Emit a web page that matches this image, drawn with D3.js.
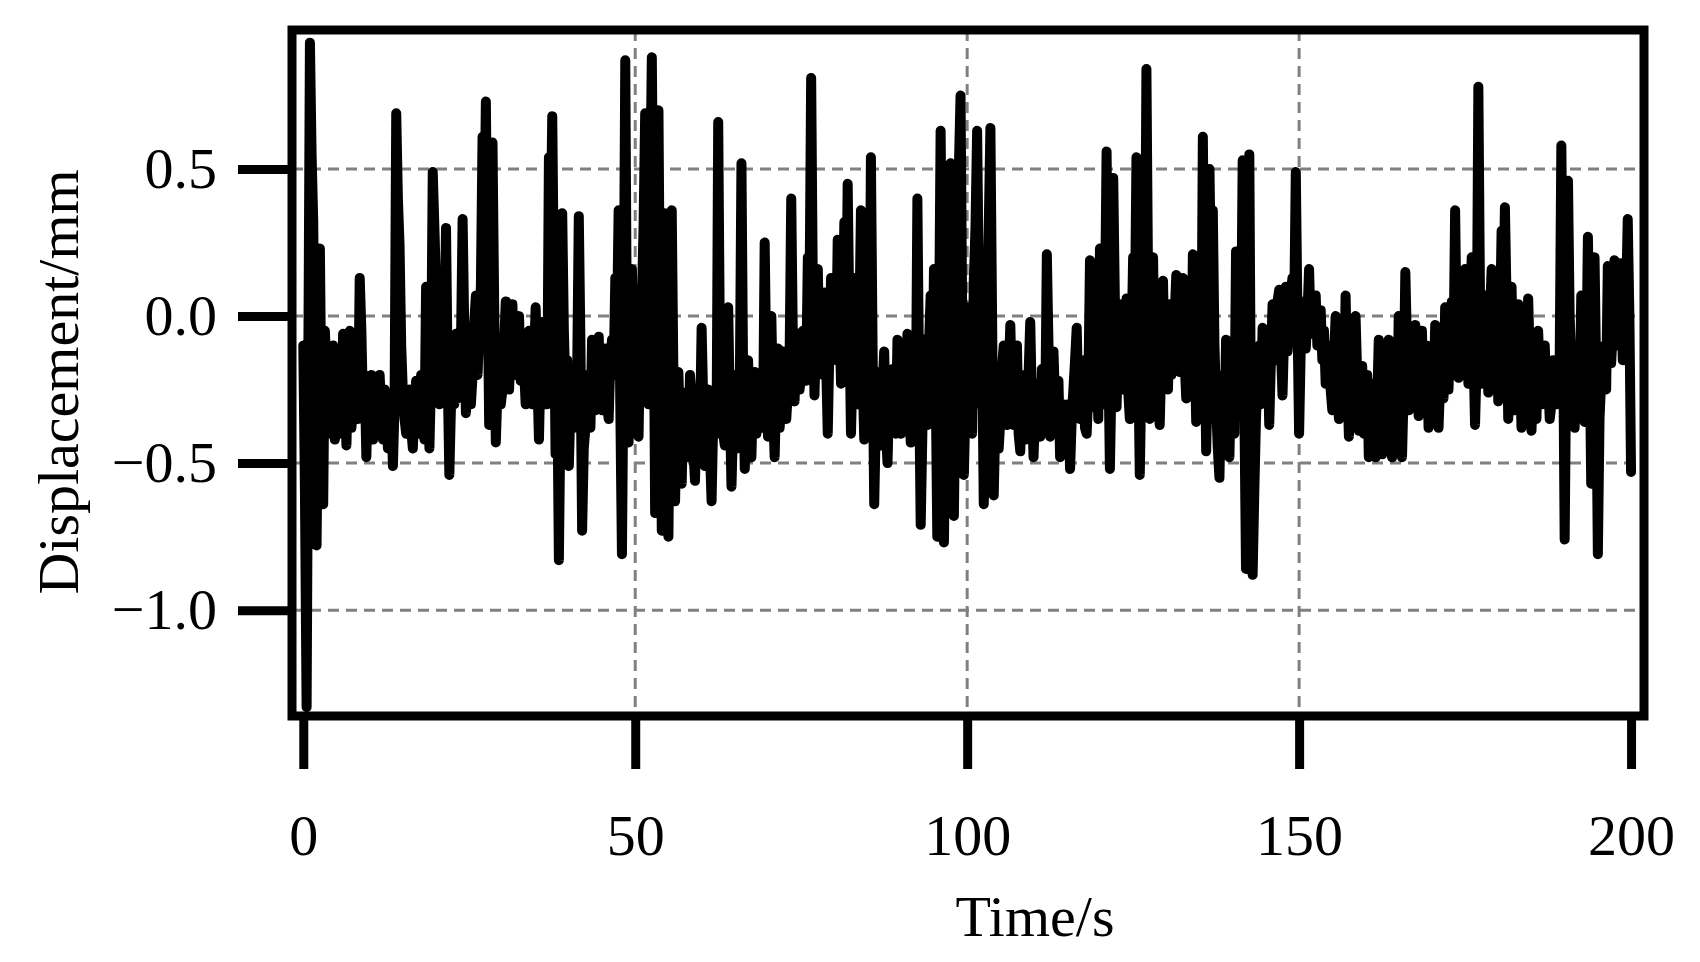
<!DOCTYPE html>
<html lang="en">
<head>
  <meta charset="UTF-8">
  <title>Displacement time history</title>
  <script src="https://d3js.org/d3.v7.min.js"></script>
  <style>
    body { margin: 0; background: #fff; }
    text { font-family: "Liberation Serif", "Times New Roman", serif; fill: #000; }
    .grid line { stroke: #808080; stroke-width: 3; stroke-dasharray: 11 7; }
    .trace { fill: none; stroke: #000; stroke-width: 10; stroke-linejoin: round; stroke-linecap: round; }
    .axis path { display: none; }
    .axis line { stroke: #000; stroke-width: 9; }
    .axis text { font-size: 58px; }
  </style>
</head>
<body>
<svg id="chart" width="1700" height="962"></svg>
<script>
// sampled every 0.25 s, starting at t = 0
const timeStep = 0.25;

// displacement in mm, one row per 10 s
const disp = [
  -0.10, -0.60, -1.33, -0.20, 0.93, 0.55, 0.32, -0.30, -0.78, -0.20, 0.23, -0.35, -0.64, -0.05, -0.19, -0.40, -0.35, -0.15, -0.10, -0.42,
  -0.38, -0.12, -0.22, -0.40, -0.06, -0.25, -0.44, -0.20, -0.05, -0.38, -0.30, -0.15, -0.12, -0.35, 0.13, -0.05, -0.32, -0.20, -0.48, -0.25,

  -0.30, -0.20, -0.42, -0.30, -0.22, -0.38, -0.20, -0.33, -0.42, -0.25, -0.30, -0.45, -0.38, -0.28, -0.51, -0.30, 0.69, 0.40, 0.24, -0.10,
  -0.26, -0.35, -0.40, -0.28, -0.25, -0.38, -0.45, -0.30, -0.22, -0.35, -0.40, -0.20, -0.30, -0.42, 0.10, -0.15, -0.45, -0.20, 0.49, 0.30,

  0.10, -0.05, -0.30, -0.15, 0.11, -0.10, 0.30, -0.20, -0.54, -0.30, -0.15, -0.30, -0.06, -0.28, -0.25, -0.10, 0.33, -0.05, -0.33, -0.20,
  -0.12, -0.30, -0.20, -0.02, 0.07, -0.20, -0.05, 0.10, 0.61, 0.20, 0.73, 0.15, -0.37, -0.10, 0.59, 0.05, -0.43, -0.25, -0.10, -0.30,

  -0.25, -0.10, 0.05, -0.12, -0.25, -0.08, 0.04, -0.20, -0.17, -0.05, 0.00, -0.22, -0.08, -0.18, -0.30, -0.12, -0.05, -0.25, -0.30, -0.15,
  0.03, -0.20, -0.42, -0.15, -0.02, -0.30, -0.20, -0.30, 0.54, 0.25, 0.68, 0.10, -0.47, -0.20, -0.83, -0.30, 0.35, -0.05, -0.26, -0.15,

  -0.51, -0.30, -0.19, -0.38, -0.35, -0.20, 0.34, -0.10, -0.73, -0.45, -0.38, -0.20, -0.25, -0.38, -0.08, -0.22, -0.32, -0.15, -0.07, -0.25,
  -0.32, -0.18, -0.11, -0.30, -0.35, -0.15, -0.08, -0.20, 0.13, -0.05, 0.36, -0.30, -0.81, -0.10, 0.87, -0.10, -0.43, -0.10, 0.16, -0.15,

  0.06, -0.20, -0.41, -0.05, 0.05, 0.30, 0.69, 0.10, -0.30, 0.40, 0.88, 0.20, -0.67, 0.10, 0.70, -0.10, -0.73, -0.20, 0.35, -0.40,
  -0.75, -0.10, 0.36, -0.20, -0.63, -0.35, -0.19, -0.40, -0.57, -0.30, -0.26, -0.48, -0.44, -0.20, -0.28, -0.45, -0.56, -0.35, -0.25, -0.40,

  -0.04, -0.30, -0.51, -0.28, -0.25, -0.45, -0.63, -0.35, -0.30, -0.40, 0.66, -0.10, -0.26, -0.40, -0.44, -0.22, 0.03, -0.30, -0.58, -0.35,
  -0.20, -0.45, -0.35, -0.25, 0.52, -0.20, -0.52, -0.30, -0.15, -0.38, -0.48, -0.25, -0.19, -0.40, -0.35, -0.20, -0.22, -0.38, 0.25, -0.20,

  -0.41, -0.25, 0.00, -0.30, -0.48, -0.25, -0.11, -0.38, -0.30, -0.12, -0.15, -0.35, -0.25, -0.15, 0.40, -0.10, -0.29, -0.12, -0.06, -0.25,
  -0.20, -0.05, -0.10, -0.22, 0.20, 0.05, 0.81, 0.10, -0.27, -0.05, 0.16, -0.15, -0.05, -0.20, 0.08, -0.15, -0.40, -0.10, 0.13, -0.10,

  0.05, -0.15, 0.26, 0.00, -0.23, -0.05, 0.32, -0.10, 0.45, 0.00, -0.40, -0.15, 0.13, -0.25, -0.30, -0.05, 0.36, -0.20, -0.42, -0.25,
  -0.20, -0.35, 0.54, -0.10, -0.64, -0.35, -0.19, -0.40, -0.44, -0.25, -0.12, -0.38, -0.50, -0.28, -0.35, -0.18, -0.20, -0.40, -0.08, -0.30,

  -0.40, -0.28, -0.20, -0.38, -0.06, -0.30, -0.43, -0.22, -0.25, -0.40, 0.40, -0.20, -0.71, -0.40, -0.08, -0.30, -0.37, -0.10, 0.07, -0.30,
  0.16, -0.20, -0.75, -0.10, 0.63, 0.00, -0.77, -0.30, 0.10, -0.20, 0.52, 0.00, -0.68, -0.20, 0.30, 0.50, 0.75, 0.00, -0.54, -0.30,

  0.03, -0.35, -0.20, -0.40, 0.12, 0.30, 0.63, 0.10, -0.30, -0.10, -0.64, -0.30, 0.00, 0.30, 0.64, 0.00, -0.61, -0.35, -0.20, -0.45,
  -0.35, -0.18, -0.10, -0.30, -0.37, -0.20, -0.03, -0.28, -0.37, -0.15, -0.10, -0.40, -0.46, -0.20, -0.25, -0.42, -0.35, -0.20, -0.02, -0.30,

  -0.48, -0.30, -0.23, -0.38, -0.41, -0.18, -0.20, -0.35, 0.21, -0.10, -0.41, -0.25, -0.12, -0.30, -0.35, -0.22, -0.48, -0.32, -0.30, -0.45,
  -0.40, -0.30, -0.52, -0.35, -0.25, -0.15, -0.04, -0.30, -0.35, -0.15, -0.20, -0.38, -0.40, -0.25, 0.19, -0.10, -0.31, -0.18, -0.10, -0.35,

  0.23, -0.10, -0.30, 0.00, 0.56, -0.10, -0.52, -0.20, 0.47, 0.05, -0.31, -0.10, 0.04, -0.25, -0.20, -0.05, 0.06, -0.25, -0.35, -0.10,
  0.20, -0.05, 0.54, -0.10, -0.54, -0.20, 0.30, -0.15, 0.84, 0.10, -0.35, -0.10, 0.20, -0.20, -0.10, -0.30, -0.37, -0.15, 0.12, -0.20,

  -0.10, -0.25, 0.04, -0.20, -0.15, 0.00, 0.14, -0.10, -0.19, 0.00, 0.13, -0.15, -0.28, -0.10, -0.05, -0.20, 0.21, -0.10, -0.36, -0.20,
  -0.10, -0.30, 0.61, 0.00, -0.46, -0.20, 0.50, 0.10, 0.36, -0.10, -0.30, -0.45, -0.55, -0.25, -0.20, -0.40, -0.08, -0.30, -0.48, -0.20,

  -0.25, -0.40, 0.22, -0.10, -0.30, -0.10, 0.53, -0.30, -0.86, -0.20, 0.55, -0.40, -0.88, -0.60, -0.35, -0.20, -0.10, -0.30, -0.04, -0.20,
  -0.25, -0.10, -0.37, -0.15, 0.04, -0.10, -0.15, 0.05, 0.09, -0.10, -0.27, -0.05, 0.10, -0.12, -0.05, 0.08, 0.13, 0.00, 0.49, 0.00,

  -0.40, -0.10, -0.08, 0.05, -0.11, 0.00, 0.16, -0.05, -0.06, 0.04, 0.07, -0.10, -0.06, 0.02, -0.15, -0.05, -0.23, -0.12, -0.10, -0.25,
  -0.32, -0.15, 0.00, -0.25, -0.35, -0.20, -0.10, -0.30, 0.07, -0.20, -0.41, -0.25, -0.15, -0.35, 0.00, -0.20, -0.39, -0.25, -0.17, -0.40,

  -0.30, -0.20, -0.48, -0.35, -0.23, -0.40, -0.48, -0.30, -0.08, -0.30, -0.47, -0.35, -0.21, -0.40, -0.08, -0.30, -0.48, -0.35, -0.25, -0.42,
  0.00, -0.30, -0.48, -0.25, 0.15, -0.10, -0.32, -0.20, -0.15, -0.30, -0.03, -0.20, -0.34, -0.15, -0.05, -0.30, -0.25, -0.10, -0.38, -0.25,

  -0.15, -0.30, -0.03, -0.20, -0.38, -0.22, -0.10, -0.28, 0.03, -0.10, -0.25, -0.05, 0.05, -0.15, 0.36, -0.10, -0.21, 0.00, -0.05, -0.20,
  0.16, -0.05, -0.23, 0.00, 0.20, -0.10, -0.37, -0.15, 0.78, 0.05, -0.23, -0.05, 0.07, -0.15, -0.26, 0.00, 0.16, -0.05, -0.10, 0.05,

  -0.29, -0.05, 0.29, 0.00, 0.37, 0.05, -0.35, -0.15, 0.10, -0.20, -0.32, -0.05, 0.04, -0.15, -0.38, -0.20, -0.10, -0.25, 0.06, -0.15,
  -0.39, -0.25, -0.17, -0.35, -0.05, -0.20, -0.30, -0.15, -0.10, -0.28, -0.20, -0.35, -0.30, -0.15, -0.17, -0.30, -0.25, -0.15, 0.58, 0.00,

  -0.76, -0.10, 0.46, 0.00, -0.16, -0.28, -0.38, -0.15, -0.20, -0.30, 0.07, -0.15, -0.36, -0.20, 0.27, -0.10, -0.57, -0.15, 0.20, -0.20,
  -0.81, -0.35, -0.22, -0.15, -0.10, -0.25, 0.17, -0.05, -0.16, -0.05, 0.19, -0.10, -0.05, 0.00, 0.18, -0.15, -0.10, 0.05, 0.33, 0.00,

  -0.53
];

// axis ticks and titles
const xTicks = [0, 50, 100, 150, 200];
const xGrid = [50, 100, 150];
const yTicks = [-1.0, -0.5, 0.0, 0.5];
const xTitle = "Time/s";
const yTitle = "Displacement/mm";

const width = 1700;
const height = 962;
const margin = { top: 30, right: 56, bottom: 246, left: 292 };

const svg = d3.select("#chart");

const x = d3.scaleLinear()
  .domain([-1.7, 201.95])
  .range([margin.left, width - margin.right]);

const y = d3.scaleLinear()
  .domain([-1.36, 0.973])
  .range([height - margin.bottom, margin.top]);

// dashed grid
const grid = svg.append("g").attr("class", "grid");
grid.selectAll(".gy")
  .data(yTicks)
  .join("line")
  .attr("x1", margin.left).attr("x2", width - margin.right)
  .attr("y1", d => y(d)).attr("y2", d => y(d));
grid.selectAll(".gx")
  .data(xGrid)
  .join("line")
  .attr("x1", d => x(d)).attr("x2", d => x(d))
  .attr("y1", margin.top).attr("y2", height - margin.bottom);

// the signal
const line = d3.line()
  .x((d, i) => x(i * timeStep))
  .y(d => y(d));

svg.append("path")
  .datum(disp)
  .attr("class", "trace")
  .attr("d", line);

// frame
svg.append("rect")
  .attr("x", margin.left)
  .attr("y", margin.top)
  .attr("width", width - margin.left - margin.right)
  .attr("height", height - margin.top - margin.bottom)
  .attr("fill", "none")
  .attr("stroke", "#000")
  .attr("stroke-width", 9);

// axes
svg.append("g")
  .attr("class", "axis")
  .attr("transform", `translate(0,${height - margin.bottom + 4})`)
  .call(d3.axisBottom(x).tickValues(xTicks).tickSize(49).tickPadding(45).tickFormat(d3.format("d")));

svg.append("g")
  .attr("class", "axis")
  .attr("transform", `translate(${margin.left - 4},0)`)
  .call(d3.axisLeft(y).tickValues(yTicks).tickSize(50).tickPadding(21).tickFormat(d3.format(".1f")));

// axis titles
svg.append("text")
  .attr("x", 1035)
  .attr("y", 936)
  .attr("text-anchor", "middle")
  .attr("font-size", 58)
  .text(xTitle);

svg.append("text")
  .attr("transform", "translate(78,382) rotate(-90)")
  .attr("text-anchor", "middle")
  .attr("font-size", 58)
  .text(yTitle);
</script>
</body>
</html>
